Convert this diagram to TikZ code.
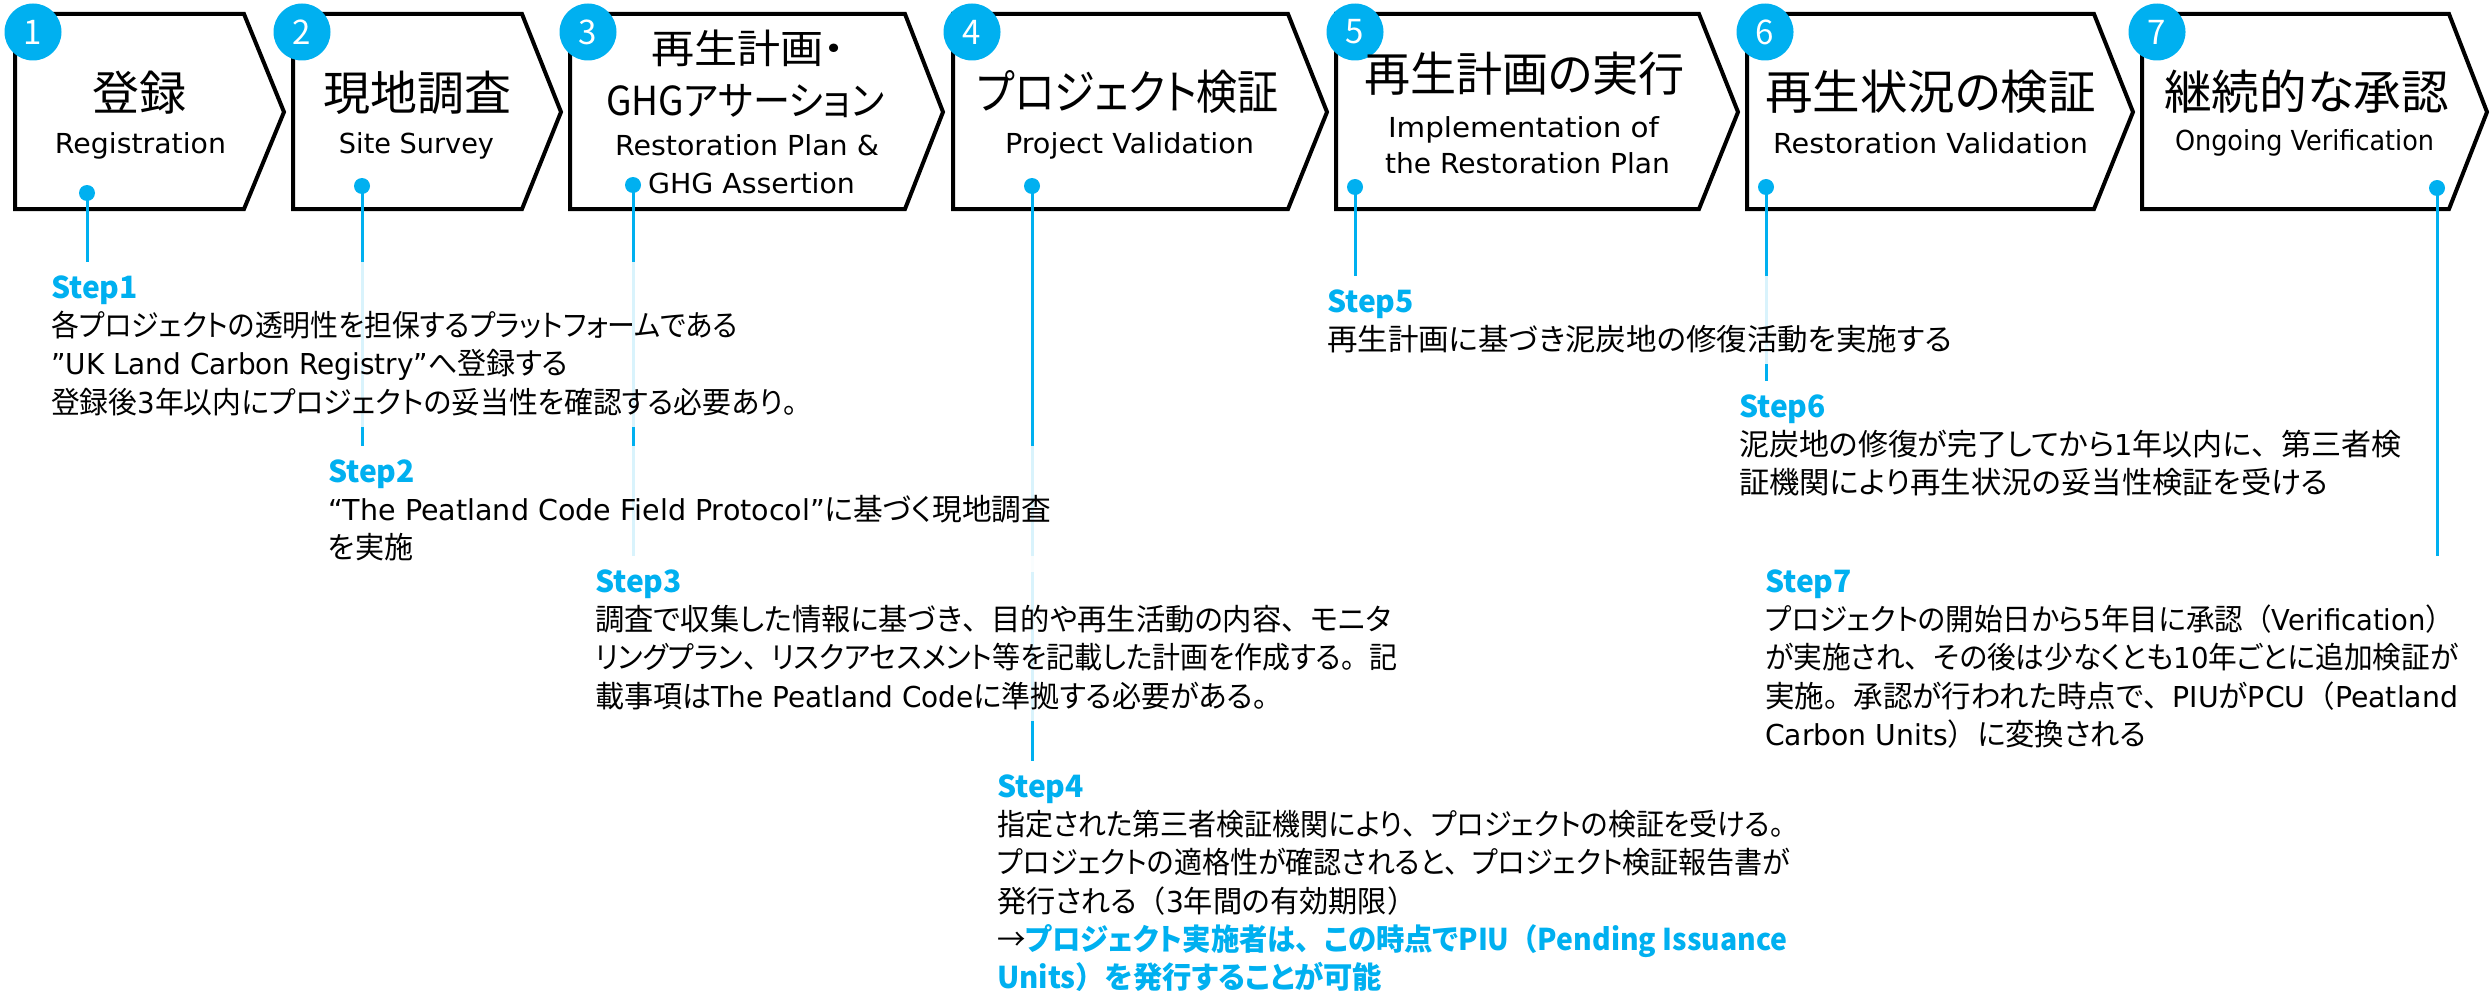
\documentclass[tikz,border=0pt]{standalone}
\usepackage{fontspec}
\usepackage{graphicx}
\setmainfont{Noto Sans CJK JP}[Script=CJK,Language=Japanese,RawFeature={+palt}]
\newfontfamily\jpfw{Noto Sans CJK JP}[Script=CJK,Language=Japanese]
\newfontfamily\ltnfont{DejaVu Sans}[Scale=0.96]
\newcommand\ltn[1]{{\ltnfont #1}}
\newcommand\lw[2]{\resizebox{#1pt}{\height}{#2}}
\usetikzlibrary{fit}
\definecolor{cblue}{HTML}{00B0F0}
\pgfdeclarelayer{chevlayer}
\pgfdeclarelayer{linelayer}
\pgfdeclarelayer{masklayer}
\pgfsetlayers{chevlayer,linelayer,masklayer,main}
\newcommand\slabel[1]{\rule{0pt}{25pt}{\fontsize{30}{38.3}\selectfont\bfseries\color{cblue}#1}}
\catcode`、=\active
\def、{{\jpfw\char"3001\relax}}
\catcode`。=\active
\def。{{\jpfw\char"3002\relax}}
\catcode`（=\active
\def（{{\jpfw\char"FF08\relax}}
\catcode`）=\active
\def）{{\jpfw\char"FF09\relax}}
\begin{document}
\begin{tikzpicture}[x=1pt,y=-1pt,
  chev/.style={draw=black,line width=4pt,fill=white,line join=miter},
  numc/.style={circle,fill=cblue,minimum size=57pt,inner sep=0pt,text=white,font=\fontsize{33}{33}\selectfont},
  dotn/.style={circle,fill=cblue,minimum size=16pt,inner sep=0pt},
  conn/.style={draw=cblue,line width=3pt},
  jpt/.style={inner sep=0pt,font=\fontsize{47}{47}\selectfont,text height=35.7pt,text depth=0pt},
  jps/.style={inner sep=0pt,font=\fontsize{40}{40}\selectfont,text height=30.4pt,text depth=0pt},
  ent/.style={inner sep=0pt,font=\ltnfont\fontsize{28.7}{28.7}\selectfont,text height=20.1pt,text depth=0pt},
  steptext/.style={anchor=north west,align=left,inner sep=0pt,font=\fontsize{30}{38.3}\selectfont},
  maskbox/.style={fill=white,fill opacity=0.85,draw=none,inner sep=11pt},
]
\useasboundingbox (0,0) rectangle (2491,990);
\begin{pgfonlayer}{chevlayer}
\fill[white] (0,0) rectangle (2491,990);
\draw[chev] (15,14) -- (244,14) -- (284,112) -- (244,209) -- (15,209) -- cycle;
\draw[chev] (293,14) -- (522,14) -- (561,112) -- (522,209) -- (293,209) -- cycle;
\draw[chev] (570,14) -- (905,14) -- (943,112) -- (905,209) -- (570,209) -- cycle;
\draw[chev] (953,14) -- (1288,14) -- (1327,112) -- (1288,209) -- (953,209) -- cycle;
\draw[chev] (1336,14) -- (1699,14) -- (1738,112) -- (1699,209) -- (1336,209) -- cycle;
\draw[chev] (1747,14) -- (2094,14) -- (2133,112) -- (2094,209) -- (1747,209) -- cycle;
\draw[chev] (2142,14) -- (2449,14) -- (2487,112) -- (2449,209) -- (2142,209) -- cycle;
\end{pgfonlayer}
% numbers
\node[numc] (n1) at (33,32) {1};
\node[numc] (n2) at (302,32) {2};
\node[numc] (n3) at (588,32) {3};
\node[numc] (n4) at (972,32) {4};
\node[numc] (n5) at (1355,32) {5};
\node[numc] (n6) at (1765,32) {6};
\node[numc] (n7) at (2157,32) {7};
% titles
\node[jpt] (t1) at (139,93) {登録};
\node[ent] (e1) at (140.5,143) {\lw{171}{Registration}};
\node[jpt] (t2) at (417,93) {現地調査};
\node[ent] (e2) at (416.5,143) {\lw{155}{Site Survey}};
\node[jps] (t3a) at (748,48) {\lw{194}{再生計画・}};
\node[jps] (t3b) at (745,100) {\lw{278}{GHGアサーション}};
\node[ent] (e3a) at (747,145) {\lw{264}{Restoration Plan \&}};
\node[ent] (e3b) at (751.5,183) {\lw{207}{GHG Assertion}};
\node[jpt] (t4) at (1128,92) {\lw{302}{プロジェクト検証}};
\node[ent] (e4) at (1129.5,143) {\lw{249}{Project Validation}};
\node[jpt] (t5) at (1524.5,74) {\lw{321}{再生計画の実行}};
\node[ent] (e5a) at (1523.5,127) {\lw{271}{Implementation of}};
\node[ent] (e5b) at (1527.5,163) {\lw{285}{the Restoration Plan}};
\node[jpt] (t6) at (1930.5,92) {\lw{331}{再生状況の検証}};
\node[ent] (e6) at (1930.5,143) {\lw{315}{Restoration Validation}};
\node[jpt] (t7) at (2306.5,92) {\lw{285}{継続的な承認}};
\node[ent] (e7) at (2304.5,140) {\lw{259}{Ongoing Verification}};
% dots
\node[dotn] (d1) at (87,193) {};
\node[dotn] (d2) at (362,186) {};
\node[dotn] (d3) at (633,185) {};
\node[dotn] (d4) at (1032,186) {};
\node[dotn] (d5) at (1355,187) {};
\node[dotn] (d6) at (1766,187) {};
\node[dotn] (d7) at (2437,188) {};
% step texts
\node[steptext] (s1) at (51,273) {\slabel{Step1}\\\lw{687}{各プロジェクトの透明性を担保するプラットフォームである}\\\lw{517}{\ltn{”UK Land Carbon Registry”}へ登録する}\\\lw{761}{登録後\ltn{3}年以内にプロジェクトの妥当性を確認する必要あり。}};
\node[steptext] (s2) at (328,457) {\slabel{Step2}\\\lw{723}{\ltn{“The Peatland Code Field Protocol”}に基づく現地調査}\\\lw{85}{を実施}};
\node[steptext] (s3) at (595,567) {\slabel{Step3}\\\lw{796}{調査で収集した情報に基づき、目的や再生活動の内容、モニタ}\\\lw{802}{リングプラン、リスクアセスメント等を記載した計画を作成する。記}\\\lw{687}{載事項は\ltn{The Peatland Code}に準拠する必要がある。}};
\node[steptext] (s4) at (997,772) {\slabel{Step4}\\\lw{801}{指定された第三者検証機関により、プロジェクトの検証を受ける。}\\\lw{793}{プロジェクトの適格性が確認されると、プロジェクト検証報告書が}\\\lw{419}{発行される（\ltn{3}年間の有効期限）}\\\lw{790}{→{\bfseries\color{cblue}プロジェクト実施者は、この時点でPIU（Pending Issuance}}\\\lw{385}{{\bfseries\color{cblue}Units）を発行することが可能}}};
\node[steptext] (s5) at (1327,287) {\slabel{Step5}\\\lw{625}{再生計画に基づき泥炭地の修復活動を実施する}};
\node[steptext] (s6) at (1739,392) {\slabel{Step6}\\\lw{662}{泥炭地の修復が完了してから\ltn{1}年以内に、第三者検}\\\lw{589}{証機関により再生状況の妥当性検証を受ける}};
\node[steptext] (s7) at (1765,567) {\slabel{Step7}\\\lw{689}{プロジェクトの開始日から\ltn{5}年目に承認（\ltn{Verification}）}\\\lw{693}{が実施され、その後は少なくとも\ltn{10}年ごとに追加検証が}\\\lw{693}{実施。承認が行われた時点で、\ltn{PIU}が\ltn{PCU}（\ltn{Peatland}}\\\lw{381}{\ltn{Carbon Units}）に変換される}};
% masks
\begin{pgfonlayer}{masklayer}
\node[maskbox,fit=(s1)] (m1) {};
\node[maskbox,fit=(s2)] (m2) {};
\node[maskbox,fit=(s3)] (m3) {};
\node[maskbox,fit=(s4)] (m4) {};
\node[maskbox,fit=(s5)] (m5) {};
\node[maskbox,fit=(s6)] (m6) {};
\node[maskbox,fit=(s7)] (m7) {};
\end{pgfonlayer}
% connectors
\begin{pgfonlayer}{linelayer}
\draw[conn] (d1.center) -- (d1.center |- m1.north);
\draw[conn] (d2.center) -- (d2.center |- m2.north);
\draw[conn] (d3.center) -- (d3.center |- m3.north);
\draw[conn] (d4.center) -- (d4.center |- m4.north);
\draw[conn] (d5.center) -- (d5.center |- m5.north);
\draw[conn] (d6.center) -- (d6.center |- m6.north);
\draw[conn] (d7.center) -- (d7.center |- m7.north);
\end{pgfonlayer}
\end{tikzpicture}
\end{document}
